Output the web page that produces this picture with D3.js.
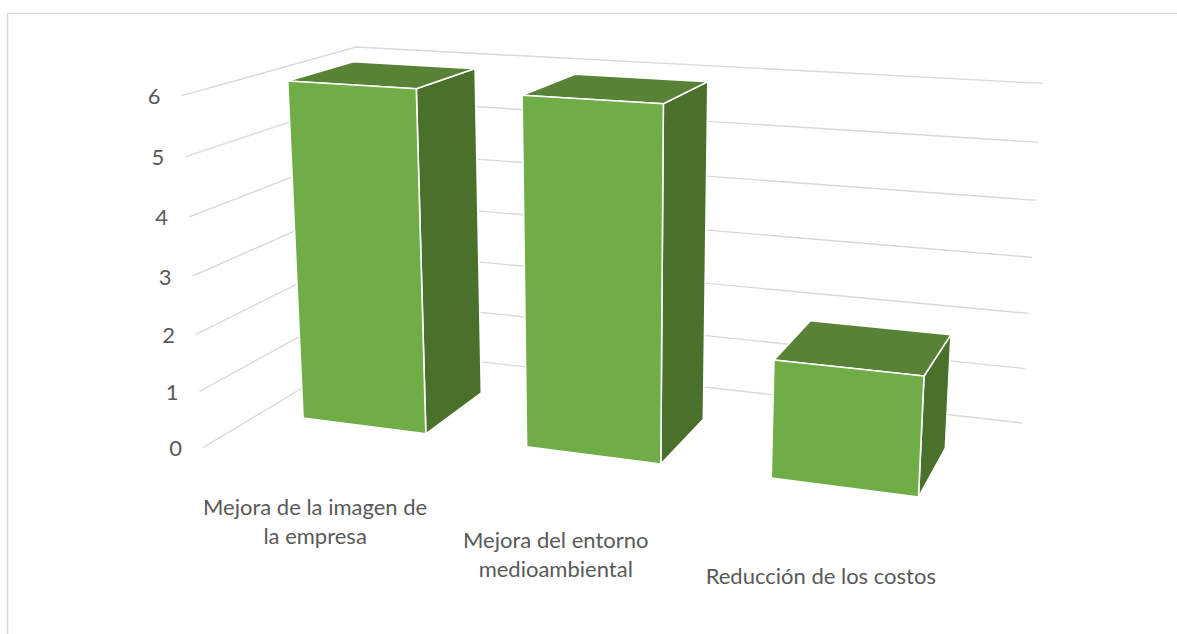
<!DOCTYPE html>
<html>
<head>
<meta charset="utf-8">
<script src="https://cdn.jsdelivr.net/npm/d3@7/dist/d3.min.js"></script>
<style>
  html, body { margin: 0; padding: 0; background: #ffffff; }
  svg { display: block; }
  text { font-family: Lato, "Open Sans", sans-serif; fill: #595959; }
</style>
</head>
<body>
<svg id="chart" width="1177" height="634"></svg>
<script>
// Data
const categories = ["Mejora de la imagen de la empresa", "Mejora del entorno medioambiental", "Reducción de los costos"];
const values = [6, 6, 2];
const yTicks = [0, 1, 2, 3, 4, 5, 6];

// Scene dimensions (world units): wall width, wall height, wall depth
const WORLD_W = 348.5, WORLD_H = 163, WORLD_D = 163;

// Perspective camera: yaw around vertical axis, pitch downward
const cam = {
  yaw: 20 * Math.PI / 180,
  pitch: 15 * Math.PI / 180,
  f: 1856,
  px: 613, py: 278,
  tx: -132.5, ty: 38.25, tz: 1000
};
const ca = Math.cos(cam.yaw), sa = Math.sin(cam.yaw);
const cb = Math.cos(cam.pitch), sb = Math.sin(cam.pitch);

function project(x, y, z) {
  const X = ca * x - sa * z + cam.tx;
  const Y = sa * sb * x - cb * y + ca * sb * z + cam.ty;
  const Z = -sa * cb * x - sb * y - ca * cb * z + cam.tz;
  return [cam.px + cam.f * X / Z, cam.py + cam.f * Y / Z];
}

const svg = d3.select("#chart");

// Chart area frame
svg.append("rect")
  .attr("x", 7.5).attr("y", 13.5)
  .attr("width", 1300).attr("height", 800)
  .attr("fill", "none")
  .attr("stroke", "#d9d9d9")
  .attr("stroke-width", 1.5);

// Bar placement within each category slot
const x = d3.scaleBand()
  .domain(categories)
  .range([0, WORLD_W])
  .paddingInner(0.44)
  .paddingOuter(0.22)
  .align(0.45);

// Category slots for the axis labels
const xSlot = d3.scaleBand()
  .domain(categories)
  .range([0, WORLD_W]);

const y = d3.scaleLinear()
  .domain([0, d3.max(yTicks)])
  .range([0, WORLD_H]);

const line = d3.line();

// Gridlines on the side wall and the back wall
const grid = svg.append("g").attr("class", "grid");
yTicks.forEach(t => {
  const h = y(t);
  grid.append("path")
    .attr("d", line([project(0, h, WORLD_D), project(0, h, 0), project(WORLD_W, h, 0)]))
    .attr("fill", "none")
    .attr("stroke", "#d9d9d9")
    .attr("stroke-width", 1.4)
    .attr("stroke-linejoin", "miter");
});

// Value axis labels beside the front edge of the side wall
const yAxis = svg.append("g").attr("class", "y-axis");
yTicks.forEach(t => {
  const p = project(0, y(t), WORLD_D);
  yAxis.append("text")
    .attr("x", p[0] - 21)
    .attr("y", p[1])
    .attr("dy", "0.38em")
    .attr("text-anchor", "end")
    .attr("font-size", 22)
    .text(d3.format("d")(t));
});

// Bars: right face, top face and front face of each column
const depthHalf = 32;
const zMid = WORLD_D * 0.485;
const z0 = zMid - depthHalf, z1 = zMid + depthHalf;
const colors = { front: "#70ad47", top: "#588337", side: "#4a712b" };

const bars = svg.append("g").attr("class", "bars");
categories.forEach((c, i) => {
  const x0 = x(c), x1 = x(c) + x.bandwidth();
  const h = y(values[i]);
  const g = bars.append("g");
  const faces = [
    { pts: [[x1, 0, z1], [x1, 0, z0], [x1, h, z0], [x1, h, z1]], fill: colors.side },
    { pts: [[x0, h, z1], [x1, h, z1], [x1, h, z0], [x0, h, z0]], fill: colors.top },
    { pts: [[x0, 0, z1], [x1, 0, z1], [x1, h, z1], [x0, h, z1]], fill: colors.front }
  ];
  faces.forEach(fc => {
    g.append("path")
      .attr("d", line.curve(d3.curveLinearClosed)(fc.pts.map(p => project(p[0], p[1], p[2]))))
      .attr("fill", fc.fill)
      .attr("stroke", "#ffffff")
      .attr("stroke-width", 1.6)
      .attr("stroke-linejoin", "round");
  });
});

// Category labels below the front edge of the floor, wrapped to a fixed width
const xAxis = svg.append("g").attr("class", "x-axis");
const wrapWidth = 240, lineH = 29;
categories.forEach(c => {
  const p = project(xSlot(c) + xSlot.bandwidth() / 2, 0, WORLD_D);
  const txt = xAxis.append("text")
    .attr("x", p[0])
    .attr("y", p[1] + 44)
    .attr("text-anchor", "middle")
    .attr("font-size", 22);
  const words = c.split(" ");
  let lines = [], cur = [];
  const probe = txt.append("tspan");
  words.forEach(w => {
    const trial = cur.concat([w]).join(" ");
    probe.text(trial);
    if (probe.node().getComputedTextLength() > wrapWidth && cur.length) {
      lines.push(cur.join(" "));
      cur = [w];
    } else {
      cur.push(w);
    }
  });
  if (cur.length) lines.push(cur.join(" "));
  probe.remove();
  lines.forEach((ln, k) => {
    txt.append("tspan")
      .attr("x", p[0])
      .attr("y", p[1] + 44 + k * lineH)
      .attr("dy", "0.36em")
      .text(ln);
  });
});
</script>
</body>
</html>
